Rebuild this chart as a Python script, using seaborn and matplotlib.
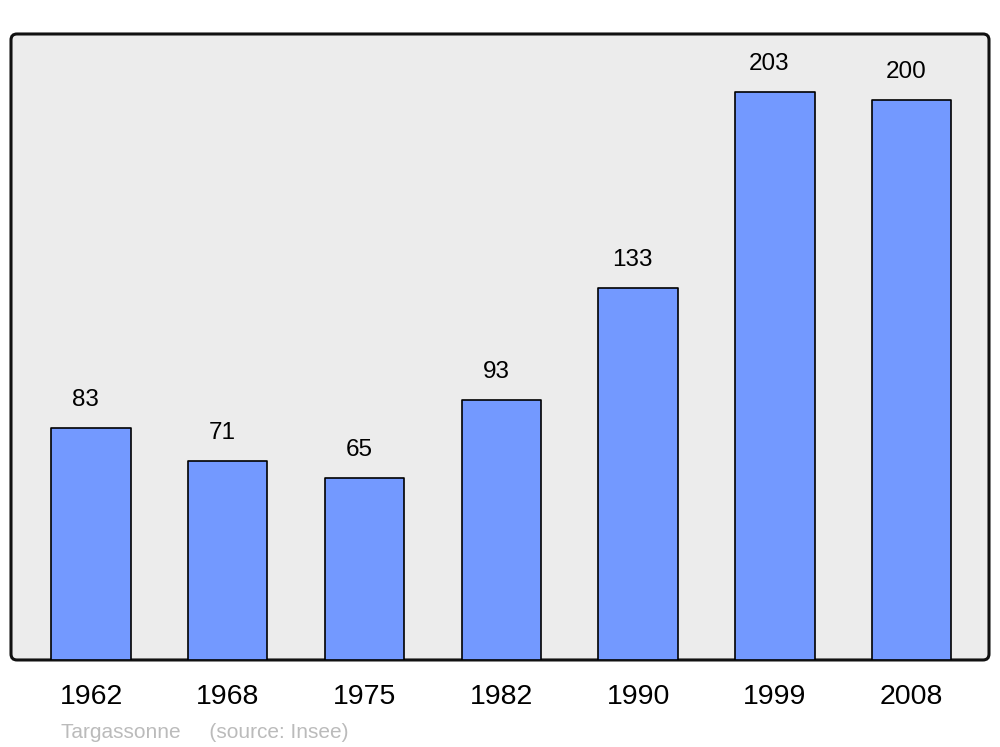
"""
Population of Targassonne
"""
import matplotlib.pyplot as plt
import matplotlib.patches as mpatches
from matplotlib.transforms import IdentityTransform
import pandas as pd
import seaborn as sns

years = ["1962", "1968", "1975", "1982", "1990", "1999", "2008"]
population = [83, 71, 65, 93, 133, 203, 200]

BAR_COLOR = "#7399ff"
BG_COLOR = "#ececec"

df = pd.DataFrame({"year": years, "population": population})

sns.set_style("white")
plt.rcParams["font.family"] = ["Liberation Sans", "DejaVu Sans"]

fig = plt.figure(figsize=(10, 7.47), dpi=100)
ax = fig.add_axes([0.011, 0.1165, 0.978, 0.838])
ax.set_facecolor("none")

sns.barplot(data=df, x="year", y="population", color=BAR_COLOR,
            saturation=1, width=0.58, edgecolor="black", linewidth=1.2,
            ax=ax, zorder=3)
for bar in ax.patches:
    bar.set_joinstyle("round")

# value labels sit a little left of the bar centre, as in the original
for i, v in enumerate(population):
    ax.text(i - 0.04, v + 10, str(v), ha="center", va="center",
            fontsize=17.5, color="black", zorder=4)

ax.set_xlim(-0.585, 6.565)
ax.set_ylim(0, 223.7)
ax.set_yticks([])
ax.set_xlabel("")
ax.set_ylabel("")
ax.tick_params(axis="x", length=0, labelsize=20.5, pad=17,
               labelcolor="black")
for s in ax.spines.values():
    s.set_visible(False)

# rounded frame behind the bars, in pixel coords
fig.canvas.draw()
bb = ax.get_window_extent()
frame = mpatches.FancyBboxPatch((bb.x0, bb.y0), bb.width, bb.height,
                                boxstyle="round,pad=0,rounding_size=6",
                                facecolor=BG_COLOR, edgecolor="#111111",
                                linewidth=2.2, transform=IdentityTransform(),
                                zorder=-1)
fig.patches.append(frame)

fig.text(0.061, 0.012, "Targassonne     (source: Insee)", fontsize=15,
         color="#bbbbbb", ha="left", va="baseline")

plt.savefig("out.png", dpi=100)
